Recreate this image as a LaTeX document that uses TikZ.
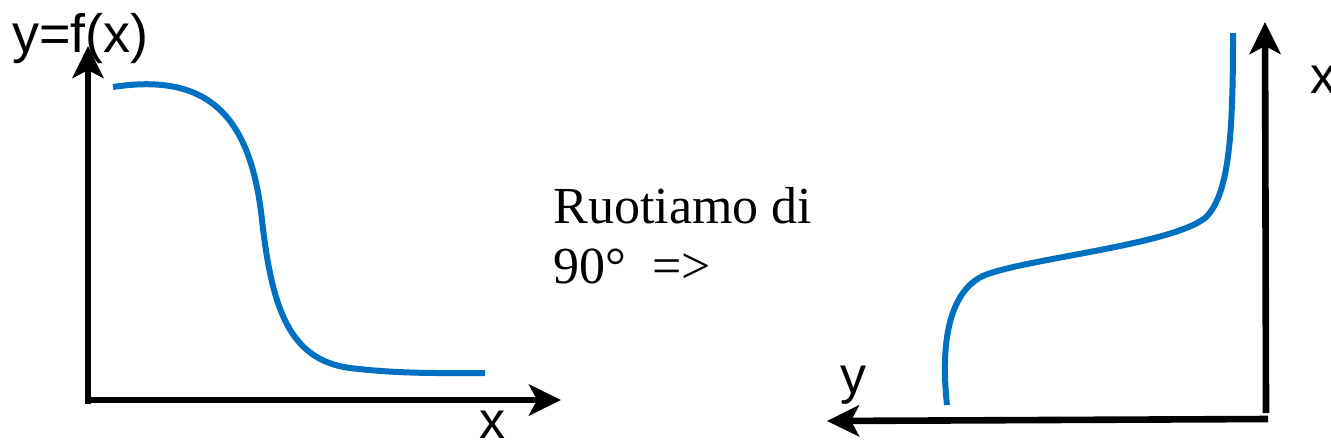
\documentclass[tikz,border=0pt]{standalone}
\usepackage{fontspec}
\setmainfont{Liberation Serif}
\newfontfamily\axisfont{Liberation Sans}
\usetikzlibrary{arrows.meta}
\definecolor{curveblue}{HTML}{0070C0}

\begin{document}
\begin{tikzpicture}[x=0.5pt,y=-0.5pt,
  axis/.style={draw=black,line width=3.3pt,-{Stealth[length=16pt,width=15.5pt,inset=4pt]}},
  curve/.style={draw=curveblue,line width=3pt},
  lab/.style={font=\axisfont\fontsize{26}{30}\selectfont,inner sep=0pt,anchor=base west},
  txt/.style={font=\fontsize{26}{30}\selectfont,inner sep=0pt,anchor=base west}]
  \useasboundingbox (0,0) rectangle (1331,445);
  % left: y = f(x)
  \coordinate (lo) at (88,404);
  \coordinate (ly) at (88,46);
  \coordinate (lx0) at (86,400);
  \coordinate (lx) at (561,400);
  \draw[axis] (lo) -- (ly);
  \draw[axis] (lx0) -- (lx);
  \node[lab,font=\axisfont\fontsize{27}{30}\selectfont] (lylab) at (12,52) {y=f(x)};
  \node[lab] (lxlab) at (479,438) {x};
  \draw[curve] (113,87) .. controls (210,72) and (251,118) .. (262,220)
    .. controls (272,310) and (290,360) .. (350,368)
    .. controls (400,374) and (440,373) .. (485,373);
  % middle text
  \node[txt] (rot1) at (553,223) {Ruotiamo di};
  \node[txt] (rot2) at (553,283) {90°~~=>};
  % right: rotated
  \coordinate (ro) at (1266,413);
  \coordinate (rx) at (1265,22);
  \coordinate (ry0) at (1268,419);
  \coordinate (ry) at (827,421);
  \draw[axis] (ro) -- (rx);
  \draw[axis] (ry0) -- (ry);
  \node[lab] (rylab) at (840,393) {y};
  \node[lab] (rxlab) at (1310,93) {x};
  \draw[curve] (947,405) .. controls (940,340) and (950,290) .. (985,275)
    .. controls (1030,258) and (1170,245) .. (1205,218)
    .. controls (1230,195) and (1233,130) .. (1233,33);
\end{tikzpicture}
\end{document}
